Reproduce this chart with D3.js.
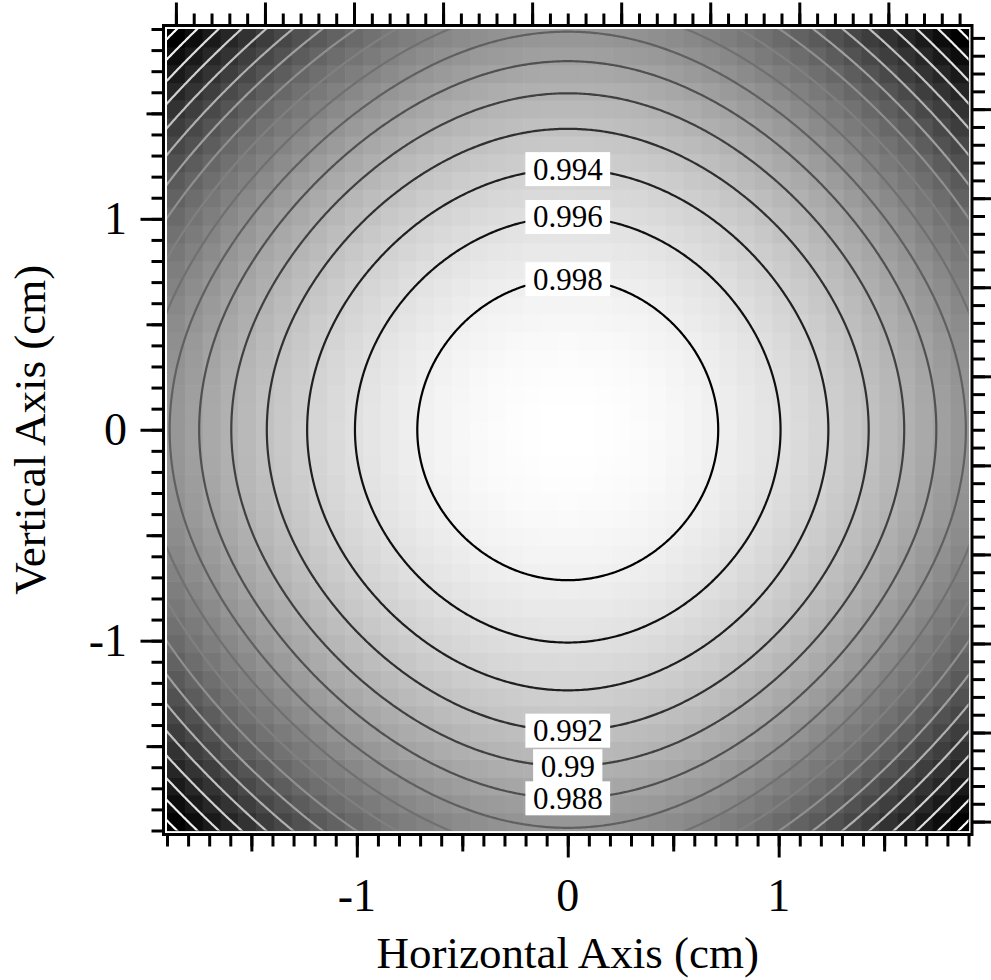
<!DOCTYPE html>
<html>
<head>
<meta charset="utf-8">
<script src="https://cdn.jsdelivr.net/npm/d3@7"></script>
<style>
body { margin: 0; background: #fff; }
text { font-family: "Liberation Serif", "Times New Roman", serif; fill: #000; }
</style>
</head>
<body>
<svg id="chart" width="991" height="980"></svg>
<script>

// image: 45 x 45 pixels covering -1.9 .. 1.9 cm on both axes
var xExtent = [-1.9, 1.9];
var yExtent = [-1.9, 1.9];
var nPixels = 45;

// surface (contour radii): z = peak - radial*(x^2+y^2) - cross*x^2*y^2
var peakValue = 1.0;
var radialCoef = 0.00393;
var crossCoef = 0.00051;

var contourLevels = [0.966, 0.968, 0.970, 0.972, 0.974, 0.976, 0.978, 0.980, 0.982,
                     0.984, 0.986, 0.988, 0.990, 0.992, 0.994, 0.996, 0.998];

var labelLevels = [0.998, 0.996, 0.994, 0.992, 0.99, 0.988];
var labelText   = ["0.998", "0.996", "0.994", "0.992", "0.99", "0.988"];
var labelSide   = [1, 1, 1, -1, -1, -1];   // above or below centre

var xTickLabels = [-1, 0, 1];
var yTickLabels = [-1, 0, 1];
var halfTicks   = [-1.5, -0.5, 0.5, 1.5];

var xTitle = "Horizontal Axis (cm)";
var yTitle = "Vertical Axis (cm)";

function surface(x, y) {
  return peakValue - radialCoef * (x * x + y * y) - crossCoef * x * x * y * y;
}

var svg = d3.select('#chart');

var x = d3.scaleLinear().domain(xExtent).range([167, 968.5]);
var y = d3.scaleLinear().domain(yExtent).range([830.5, 29]);
var dx = (xExtent[1] - xExtent[0]) / nPixels;
var dy = (yExtent[1] - yExtent[0]) / nPixels;

// pixel index scales for the top and right axes
var xi = d3.scaleLinear().domain([-0.5, nPixels - 0.5]).range(x.range());
var yi = d3.scaleLinear().domain([-0.5, nPixels - 0.5]).range(y.range());

// image cells
var cells = [];
for (var j = 0; j < nPixels; j++) {
  for (var i = 0; i < nPixels; i++) {
    var cx = xExtent[0] + (i + 0.5) * dx;
    var cy = yExtent[0] + (j + 0.5) * dy;
    cells.push({x: cx, y: cy, z: surface(cx, cy)});
  }
}
var gray = d3.scaleLinear()
  .domain(d3.extent(cells, function(d) { return d.z; }))
  .range(['#000000', '#ffffff']);

svg.append('g')
  .selectAll('rect')
  .data(cells)
  .enter()
  .append('rect')
  .attr('x', function(d) { return x(d.x - dx / 2); })
  .attr('y', function(d) { return y(d.y + dy / 2); })
  .attr('width', function(d) { return x(d.x + dx / 2) - x(d.x - dx / 2) + 0.6; })
  .attr('height', function(d) { return y(d.y - dy / 2) - y(d.y + dy / 2) + 0.6; })
  .attr('fill', function(d) { return gray(d.z); });

// contours on a fine grid a little larger than the image, clipped to it
svg.append('clipPath').attr('id', 'imgclip')
  .append('rect')
  .attr('x', x(xExtent[0])).attr('y', y(yExtent[1]))
  .attr('width', x(xExtent[1]) - x(xExtent[0]))
  .attr('height', y(yExtent[0]) - y(yExtent[1]));

var step = 0.01, g0 = -2.0, n = 401;
var fine = new Array(n * n);
for (var r = 0; r < n; r++) {
  for (var c = 0; c < n; c++) {
    fine[r * n + c] = surface(g0 + c * step, g0 + r * step);
  }
}
var contours = d3.contours().size([n, n]).thresholds(contourLevels)(fine);

var proj = d3.geoTransform({
  point: function(px, py) {
    this.stream.point(x(g0 + (px - 0.5) * step), y(g0 + (py - 0.5) * step));
  }
});
var lineColor = d3.scaleLinear()
  .domain([contourLevels[contourLevels.length - 1], contourLevels[0]])
  .range(['#000000', '#ffffff'])
  .clamp(true);

svg.append('g')
  .attr('clip-path', 'url(#imgclip)')
  .selectAll('path')
  .data(contours)
  .enter()
  .append('path')
  .attr('d', d3.geoPath(proj))
  .attr('fill', 'none')
  .attr('stroke', function(d) { return lineColor(d.value); })
  .attr('stroke-width', 2.2);

// contour labels on the vertical centre line
var labels = svg.append('g');
labelLevels.forEach(function(lv, k) {
  var ry = labelSide[k] * Math.sqrt((peakValue - lv) / radialCoef);
  var lg = labels.append('g').attr('transform', 'translate(' + x(0) + ',' + y(ry) + ')');
  var box = lg.append('rect').attr('fill', '#fff');
  var t = lg.append('text')
    .attr('text-anchor', 'middle')
    .attr('y', 10.5)
    .style('font-size', '31px')
    .text(labelText[k]);
  var w = t.node().getComputedTextLength() + 15;
  box.attr('x', -w / 2).attr('y', -17).attr('width', w).attr('height', 34);
});

// frame (axis lines sit a few pixels outside the image)
var frameL = 163.5, frameR = 972, frameT = 25.5, frameB = 834.5;
svg.append('rect')
  .attr('x', frameL).attr('y', frameT)
  .attr('width', frameR - frameL).attr('height', frameB - frameT)
  .attr('fill', 'none').attr('stroke', '#000').attr('stroke-width', 3);

function tickAxis(axis, tx, ty) {
  svg.append('g')
    .attr('transform', 'translate(' + tx + ',' + ty + ')')
    .call(axis.tickFormat('').tickSizeOuter(0))
    .call(function(g) { g.select('.domain').remove(); })
    .call(function(g) { g.selectAll('line').attr('stroke', '#000').attr('stroke-width', 3); });
}

var tenths = d3.range(-19, 20).map(function(v) { return v / 10; });
var pixIdx = d3.range(0, nPixels);
var pixMajor = pixIdx.filter(function(v) { return v % 5 === 0; });

// bottom and left: cm
tickAxis(d3.axisBottom(x).tickValues(tenths).tickSize(12), 0, frameB);
tickAxis(d3.axisBottom(x).tickValues(halfTicks).tickSize(17), 0, frameB);
tickAxis(d3.axisBottom(x).tickValues(xTickLabels).tickSize(23), 0, frameB);
tickAxis(d3.axisLeft(y).tickValues(tenths).tickSize(12), frameL, 0);
tickAxis(d3.axisLeft(y).tickValues(halfTicks).tickSize(17), frameL, 0);
tickAxis(d3.axisLeft(y).tickValues(yTickLabels).tickSize(23), frameL, 0);

// top and right: pixel index
tickAxis(d3.axisTop(xi).tickValues(pixIdx).tickSize(12), 0, frameT);
tickAxis(d3.axisTop(xi).tickValues(pixMajor).tickSize(23), 0, frameT);
tickAxis(d3.axisRight(yi).tickValues(pixIdx).tickSize(13), frameR, 0);
tickAxis(d3.axisRight(yi).tickValues(pixMajor).tickSize(23), frameR, 0);

// tick labels
svg.append('g')
  .selectAll('text')
  .data(xTickLabels)
  .enter()
  .append('text')
  .attr('x', function(d) { return x(d); })
  .attr('y', 911)
  .attr('text-anchor', 'middle')
  .style('font-size', '46px')
  .text(function(d) { return d; });

svg.append('g')
  .selectAll('text')
  .data(yTickLabels)
  .enter()
  .append('text')
  .attr('x', 127)
  .attr('y', function(d) { return y(d) + 15; })
  .attr('text-anchor', 'end')
  .style('font-size', '46px')
  .text(function(d) { return d; });

// axis titles
svg.append('text')
  .attr('x', x(0)).attr('y', 968)
  .attr('text-anchor', 'middle')
  .style('font-size', '45px')
  .text(xTitle);

svg.append('text')
  .attr('transform', 'translate(45,' + y(0) + ') rotate(-90)')
  .attr('text-anchor', 'middle')
  .style('font-size', '45px')
  .text(yTitle);

</script>
</body>
</html>
